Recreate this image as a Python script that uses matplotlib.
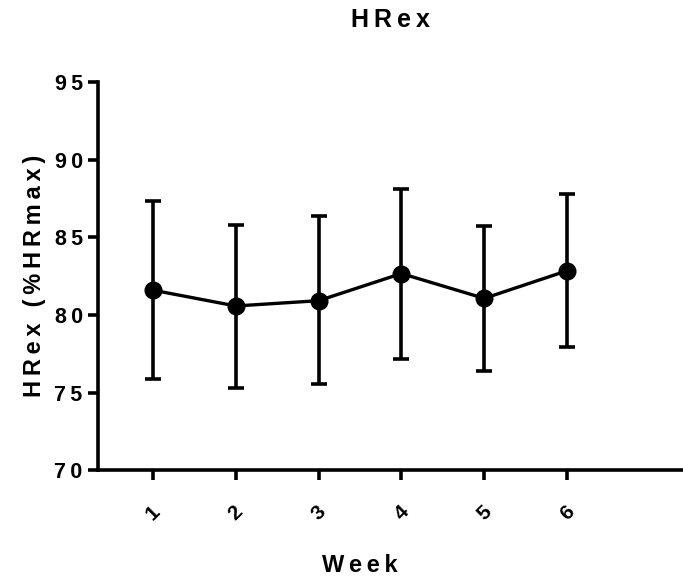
import matplotlib
matplotlib.use('Agg')
from matplotlib import pyplot as plt

plt.rcParams['font.family'] = ['Liberation Sans', 'DejaVu Sans']
plt.rcParams['font.weight'] = 'bold'

weeks = [1, 2, 3, 4, 5, 6]
hrex_mean = [81.6, 80.58, 80.92, 82.67, 81.07, 82.85]
err_upper = [87.37, 85.81, 86.39, 88.1, 85.73, 87.78]
err_lower = [75.9, 75.32, 75.53, 77.18, 76.37, 77.95]
y_ticks = [70, 75, 80, 85, 90, 95]

TS = '\u2009'


def spaced(s):
    return TS.join(str(s))


yerr = [[m - lo for m, lo in zip(hrex_mean, err_lower)],
        [hi - m for m, hi in zip(hrex_mean, err_upper)]]

fig = plt.figure(figsize=(6.83, 5.79), dpi=100)
ax = fig.add_axes([0.1435, 0.188, 0.8565, 0.670])

ax.errorbar(weeks, hrex_mean, yerr=yerr, color='black', lw=2.4,
            elinewidth=2.6, capsize=5.8, capthick=2.6,
            marker='o', markersize=12)

ax.set_xlim(0.337, 7.4)
ax.set_ylim(70, 95)
ax.set_yticks(y_ticks)
ax.set_yticklabels([spaced(t) for t in y_ticks], fontsize=15.5, fontweight='bold')
ax.set_xticks(weeks)
ax.set_xticklabels([str(w) for w in weeks], fontsize=15, fontweight='bold',
                   rotation=45, ha='center', va='center')

for side in ['top', 'right']:
    ax.spines[side].set_visible(False)
for side in ['left', 'bottom']:
    ax.spines[side].set_linewidth(2.6)
ax.tick_params(axis='both', direction='out', length=7, width=2.6, color='black')
ax.tick_params(axis='x', pad=24)
ax.tick_params(axis='y', pad=4)

ax.set_title(spaced('HRex'), fontsize=18, fontweight='bold', pad=40)
ax.set_ylabel(TS.join('HRex (%HRmax)'), fontsize=17, fontweight='bold', labelpad=6)
ax.set_xlabel(spaced('Week'), fontsize=17, fontweight='bold')
x0, x1 = ax.get_xlim()
ax.xaxis.set_label_coords((3.5 - x0) / (x1 - x0), -0.215)

fig.savefig('out.png', dpi=100)
